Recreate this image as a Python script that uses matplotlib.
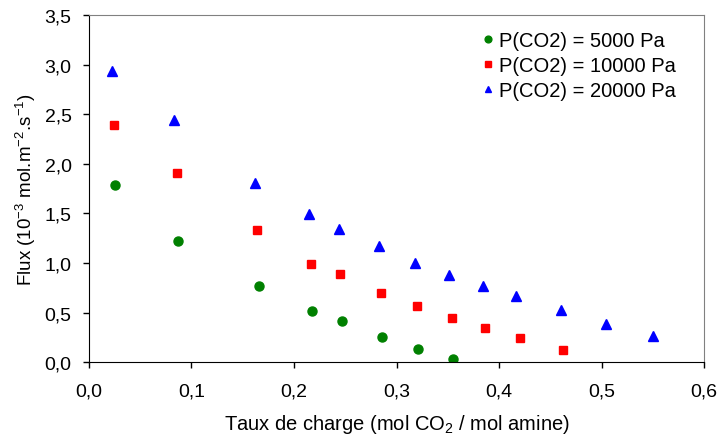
import matplotlib
matplotlib.use('Agg')
import matplotlib.pyplot as plt
from matplotlib.ticker import FuncFormatter

plt.rcParams['font.family'] = ['Liberation Sans', 'DejaVu Sans']
plt.rcParams['mathtext.fontset'] = 'custom'
plt.rcParams['mathtext.rm'] = 'Liberation Sans'
plt.rcParams['mathtext.it'] = 'Liberation Sans'

# données
x_5000 = [0.025, 0.087, 0.166, 0.218, 0.247, 0.286, 0.321, 0.355]
y_5000 = [1.79, 1.22, 0.77, 0.52, 0.42, 0.26, 0.13, 0.03]

x_10000 = [0.024, 0.086, 0.164, 0.217, 0.245, 0.285, 0.320, 0.354, 0.386, 0.420, 0.462]
y_10000 = [2.39, 1.91, 1.33, 0.99, 0.89, 0.70, 0.57, 0.45, 0.35, 0.24, 0.12]

x_20000 = [0.022, 0.083, 0.162, 0.215, 0.244, 0.283, 0.318, 0.351, 0.384, 0.417, 0.460, 0.504, 0.550]
y_20000 = [2.94, 2.44, 1.81, 1.49, 1.34, 1.17, 1.00, 0.88, 0.77, 0.67, 0.53, 0.39, 0.27]

labels = ['P(CO2) = 5000 Pa', 'P(CO2) = 10000 Pa', 'P(CO2) = 20000 Pa']

fig = plt.figure(figsize=(7.2, 4.39), dpi=100)
ax = fig.add_axes([0.1236, 0.1724, 0.8542, 0.7912])

ax.plot(x_5000, y_5000, 'o', color='#008000', markersize=6.5, label=labels[0])
ax.plot(x_10000, y_10000, 's', color='#FF0000', markersize=6, label=labels[1])
ax.plot(x_20000, y_20000, '^', color='#0000FF', markersize=6.5, label=labels[2])

ax.set_xlim(0, 0.6)
ax.set_ylim(0, 3.5)
ax.set_xticks([0, 0.1, 0.2, 0.3, 0.4, 0.5, 0.6])
ax.set_yticks([0, 0.5, 1.0, 1.5, 2.0, 2.5, 3.0, 3.5])
ax.xaxis.set_major_formatter(FuncFormatter(lambda v, p: f"{v:.1f}".replace('.', ',')))
ax.yaxis.set_major_formatter(FuncFormatter(lambda v, p: f"{v:.1f}".replace('.', ',')))
ax.tick_params(direction='out', length=4.5, width=1, labelsize=14, colors='black')
ax.tick_params(axis='x', pad=10)
ax.tick_params(axis='y', pad=8)

ax.spines['top'].set_color('#808080')
ax.spines['right'].set_color('#808080')
ax.spines['left'].set_color('black')
ax.spines['bottom'].set_color('black')

ax.set_xlabel('Taux de charge (mol CO$_2$ / mol amine)', fontsize=14.5, labelpad=9)
ax.set_ylabel('Flux (10$^{-3}$ mol.m$^{-2}$.s$^{-1}$)', fontsize=13.5, labelpad=5)

ax.legend(loc='upper right', frameon=False, fontsize=14.5, handletextpad=0.1,
          markerscale=0.75, labelspacing=0.3, handlelength=0.9,
          borderpad=0, borderaxespad=0, bbox_to_anchor=(0.955, 0.955))

fig.savefig('out.png', dpi=100)
